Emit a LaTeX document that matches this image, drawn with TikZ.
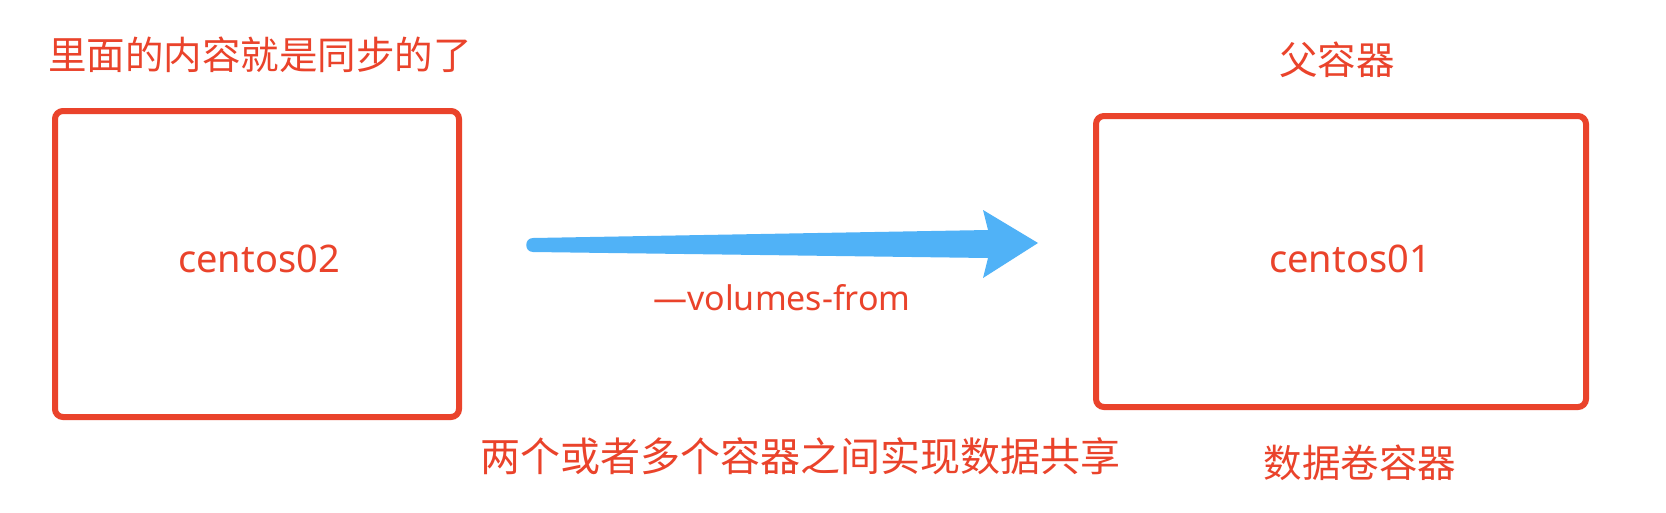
\documentclass[tikz,border=0pt]{standalone}
\usepackage{fontspec}
\setmainfont{Noto Sans}
\newfontfamily\cjk{Noto Sans CJK SC}
\usetikzlibrary{calc}
\definecolor{boxred}{RGB}{234,67,43}
\definecolor{arrowblue}{RGB}{80,178,247}
\tikzset{
  container/.style={draw=boxred, line width=6pt, rounded corners=8pt, inner sep=0pt, font=\fontsize{38}{44}\selectfont, text=boxred},
  cjklabel/.style={inner sep=0pt, text=boxred, font=\cjk\fontsize{38.5}{44}\selectfont},
  latinlabel/.style={inner sep=0pt, text=boxred, font=\fontsize{34}{40}\selectfont},
}
\begin{document}
\begin{tikzpicture}[x=1pt,y=-1pt]
\useasboundingbox (0,0) rectangle (1666,512);
\fill[white] (0,0) rectangle (1666,512);
% boxes
\node[container, minimum width=404pt, minimum height=306pt] (c2) at (257,264) {};
\node[container, minimum width=490pt, minimum height=291pt] (c1) at (1341,261.5) {};
\node[inner sep=0pt, text=boxred, font=\fontsize{38}{44}\selectfont, anchor=base] (c2t) at (259,272) {centos02};
\node[inner sep=0pt, text=boxred, font=\fontsize{38}{44}\selectfont, anchor=base] (c1t) at (1350,272) {centos01};
% labels
\node[cjklabel] (sync) at (260,55) {里面的内容就是同步的了};
\node[cjklabel] (parent) at (1337,59.5) {父容器};
\node[cjklabel] (datavol) at (1360,463) {数据卷容器};
\node[cjklabel, font=\cjk\fontsize{40}{46}\selectfont] (share) at (800,456.5) {两个或者多个容器之间实现数据共享};
\node[latinlabel, anchor=base] (vf) at (782,310) {—volumes-from};
% arrow
\coordinate (tail) at (533,245);
\coordinate (tip) at (1038,243);
\fill[arrowblue, line join=round]
  ($(tail)+(0,-7)$) -- (988,230) -- (983,210) -- (tip) -- (983,278) -- (988,258) -- ($(tail)+(0,7)$)
  .. controls ($(tail)+(-9,7)$) and ($(tail)+(-9,-7)$) .. ($(tail)+(0,-7)$) -- cycle;
\end{tikzpicture}
\end{document}
